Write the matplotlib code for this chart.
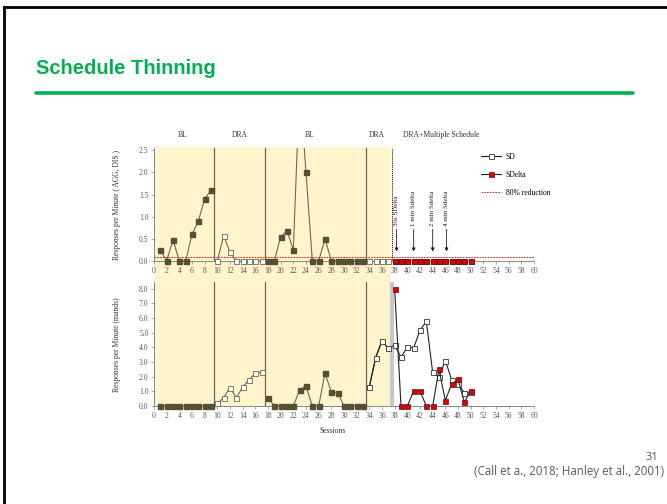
import numpy as np
import matplotlib
matplotlib.use('Agg')
import matplotlib.pyplot as plt
from matplotlib.patches import Rectangle
from matplotlib.lines import Line2D

# Datos (sesiones y respuestas por minuto)
bl1_x = list(range(1, 10))
dra1_x = list(range(10, 18))
bl2_x = list(range(18, 34))
dra2_x = list(range(34, 38))
mult_x = list(range(38, 51))

# Panel superior: AGG, DIS
bl1_top = [0.25, 0.0, 0.48, 0.0, 0.0, 0.6, 0.9, 1.4, 1.6]
dra1_top = [0.0, 0.57, 0.2, 0.0, 0.0, 0.0, 0.0, 0.0]
bl2_top = [0.0, 0.0, 0.55, 0.68, 0.25, 4.0, 2.0, 0.0, 0.0, 0.5, 0.0, 0.0, 0.0, 0.0, 0.0, 0.0]
dra2_top = [0.0, 0.0, 0.0, 0.0]
sd_top = [0.0] * 13
sdelta_top = [0.0] * 13
reduction_80 = 0.08

# Panel inferior: mands
bl1_bot = [0.0] * 9
dra1_bot = [0.18, 0.57, 1.25, 0.57, 1.28, 1.78, 2.23, 2.3]
bl2_bot = [0.55, 0.0, 0.0, 0.0, 0.0, 1.1, 1.36, 0.0, 0.0, 2.23, 0.96, 0.9, 0.0, 0.0, 0.0, 0.0]
dra2_bot = [1.3, 3.3, 4.44, 3.92]
sd_bot = [4.15, 3.33, 4.0, 3.96, 5.15, 5.77, 2.3, 1.96, 3.1, 1.78, 1.5, 0.91, 0.95]
sdelta_bot = [8.0, 0.0, 0.0, 1.02, 1.02, 0.0, 0.0, 2.5, 0.37, 1.5, 1.82, 0.25, 1.03]

phase_lines = [9.5, 17.5, 33.5]
phase_labels = ['BL', 'DRA', 'BL', 'DRA', 'DRA+Multiple Schedule']
phase_label_x = [4.6, 13.6, 24.6, 35.2, 45.4]
thin_labels = ['30s SDelta', '1 min Sdelta', '2 min Sdelta', '4 min Sdelta']
thin_x = [38.3, 41, 44, 46.2]

W, H = 667, 504
fig = plt.figure(figsize=(W / 100, H / 100), dpi=100)


def fx(p):
    return p / W


def fy(p):
    return 1 - p / H


serif = 'Liberation Serif'
dark = '#564f33'
line_c = '#6e6a50'
tick_c = '#5a5a5a'

# Marco de la diapositiva
fig.add_artist(Line2D([fx(4), fx(4)], [fy(7), 0], color='black', lw=2))
fig.add_artist(Line2D([fx(4), 1], [fy(7), fy(7)], color='black', lw=2))

# Título y línea verde
fig.text(fx(36), fy(68), 'Schedule Thinning', color='#00B050', fontsize=14.5,
         fontweight='bold', family='Liberation Sans', va='center', ha='left')
fig.add_artist(Line2D([fx(36), fx(633)], [fy(93), fy(93)], color='#00B050',
                      lw=2.6, solid_capstyle='round'))

# Fondo amarillo de las fases iniciales
fig.add_artist(Rectangle((fx(154), fy(407)), fx(391) - fx(154), fy(147) - fy(407),
                         facecolor='#fff4cc', edgecolor='none', zorder=0))

ax1 = fig.add_axes([fx(154), fy(261), fx(534) - fx(154), fy(148) - fy(261)])
ax2 = fig.add_axes([fx(154), fy(406), fx(534) - fx(154), fy(282) - fy(406)])

for ax in (ax1, ax2):
    ax.set_facecolor('none')
    ax.set_xlim(0, 60)
    ax.set_xticks(range(0, 61, 2))
    for s in ('top', 'right'):
        ax.spines[s].set_visible(False)
    ax.spines['left'].set_color('#777777')
    ax.spines['bottom'].set_color('#777777')
    ax.spines['left'].set_linewidth(0.6)
    ax.spines['bottom'].set_linewidth(0.6)
    ax.tick_params(labelsize=5.5, colors='#888888', labelcolor=tick_c, length=2,
                   width=0.5, pad=2)
    for lab in ax.get_xticklabels() + ax.get_yticklabels():
        lab.set_family(serif)
    for xv in phase_lines:
        ax.axvline(xv, color='#6b6650', lw=0.9, zorder=2)

ms = 3.6
filled = dict(marker='s', ms=ms, mfc=dark, mec=dark, color=line_c, lw=0.8)
opened = dict(marker='s', ms=ms, mfc='white', mec='#6b6650', mew=0.6, color=line_c, lw=0.8)
sd_st = dict(marker='s', ms=ms, mfc='white', mec='#333333', mew=0.6, color='#222222', lw=0.8)
sdel_st = dict(marker='s', ms=ms, mfc='#e00000', mec='#551111', mew=0.5, color='#222222', lw=0.8)


def serie(ax, x, y, st, z=3):
    # línea recortada por el eje, marcadores visibles sobre el eje x
    top = ax.get_ylim()[1]
    ax.plot(x, y, color=st['color'], lw=st['lw'], zorder=z)
    vis = [i for i, v in enumerate(y) if v <= top]
    mk = {k: v for k, v in st.items() if k not in ('color', 'lw')}
    ax.plot([x[i] for i in vis], [y[i] for i in vis], ls='none', clip_on=False,
            zorder=z + 0.5, **mk)


# Panel superior
ax1.set_ylim(0, 2.55)
ax1.set_yticks(np.arange(0, 2.51, 0.5))
ax1.set_yticklabels([f'{v:.1f}' for v in np.arange(0, 2.51, 0.5)], family=serif)
ax1.axhline(reduction_80, color='#e03030', lw=0.8, ls=(0, (1.5, 1)), zorder=2)
ax1.axvline(37.5, color='black', lw=0.7, ls=(0, (1, 1)), zorder=2)
serie(ax1, bl1_x, bl1_top, filled)
serie(ax1, dra1_x, dra1_top, opened)
serie(ax1, bl2_x, bl2_top, filled)
serie(ax1, dra2_x, dra2_top, opened)
serie(ax1, mult_x, sd_top, sd_st, 4)
serie(ax1, mult_x, sdelta_top, sdel_st, 5)
for lab, xv in zip(phase_labels, phase_label_x):
    ax1.text(xv, 2.84, lab, family=serif, fontsize=5.5, color='#333333',
             ha='center', va='center', clip_on=False)
for lab, xv in zip(thin_labels, thin_x):
    ax1.text(xv, 0.8, lab, family=serif, fontsize=5, rotation=90, color='#222222',
             ha='center', va='bottom')
    ax1.annotate('', xy=(xv, 0.15), xytext=(xv, 0.78),
                 arrowprops=dict(arrowstyle='-|>', color='#222222', lw=0.6,
                                 mutation_scale=5))

# Panel inferior
ax2.set_ylim(0, 8.45)
ax2.set_yticks(np.arange(0, 8.1, 1.0))
ax2.set_yticklabels([f'{v:.1f}' for v in np.arange(0, 8.1, 1.0)], family=serif)
ax2.axvline(37.5, color='#c8c8c8', lw=3, zorder=1)
serie(ax2, bl1_x, bl1_bot, filled)
serie(ax2, dra1_x, dra1_bot, opened)
serie(ax2, bl2_x, bl2_bot, filled)
ax2.plot(dra2_x + mult_x[:1], dra2_bot + sd_bot[:1], color='#333333', lw=0.8, zorder=3)
serie(ax2, dra2_x, dra2_bot, sd_st, 4)
serie(ax2, mult_x, sd_bot, sd_st, 4)
serie(ax2, mult_x, sdelta_bot, sdel_st, 5)

# Etiquetas de ejes
fig.text(fx(117), fy(205), 'Responses per Minute ( AGG, DIS )', rotation=90,
         family=serif, fontsize=5.5, color='#333333', ha='center', va='center')
fig.text(fx(117), fy(345), 'Responses per Minute (mands)', rotation=90,
         family=serif, fontsize=5.5, color='#333333', ha='center', va='center')
fig.text(fx(333), fy(431), 'Sessions', family=serif, fontsize=5.5,
         color='#333333', ha='center', va='center')

# Leyenda
handles = [Line2D([], [], **sd_st), Line2D([], [], **sdel_st),
           Line2D([], [], color='#e03030', lw=0.8, ls=(0, (1.5, 1)))]
fig.legend(handles, ['SD', 'SDelta', '80% reduction'], loc='upper left',
           bbox_to_anchor=(fx(478), fy(150)), frameon=False,
           prop={'family': serif, 'size': 5.5}, handlelength=2.6,
           labelspacing=1.3, handletextpad=0.6, borderaxespad=0)

# Pie de diapositiva
fig.text(fx(652), fy(457), '31', family='Open Sans', fontsize=8, color='#595959',
         ha='center', va='center')
fig.text(fx(664), fy(471), '(Call et a., 2018; Hanley et al., 2001)',
         family='Open Sans', fontsize=8.3, color='#595959', ha='right', va='center')

fig.savefig('out.png', dpi=100)
